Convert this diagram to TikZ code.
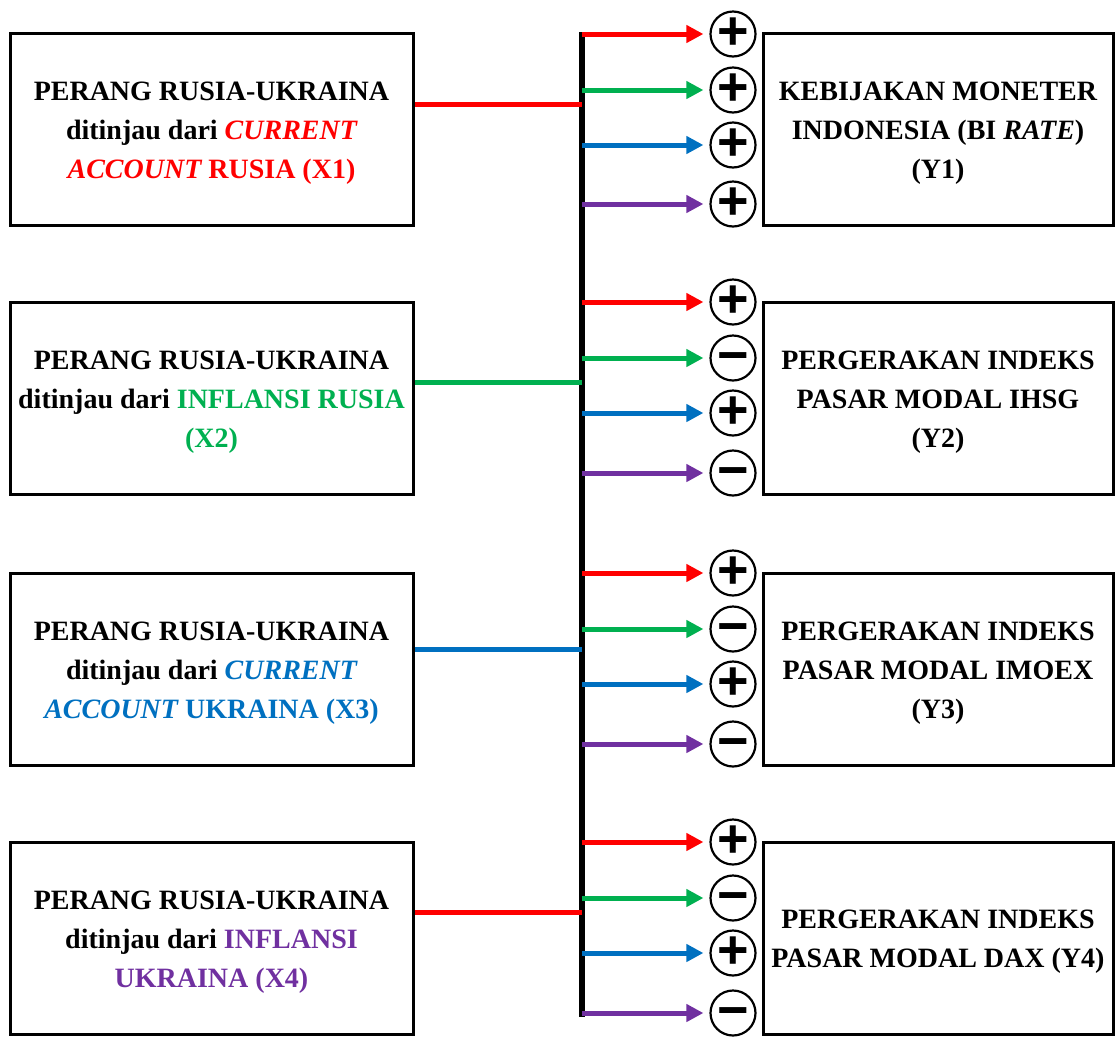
\documentclass[tikz,border=0pt]{standalone}
\usepackage{fontspec}
\setmainfont{Liberation Serif}
\newfontfamily\signfont{Liberation Sans}
\usetikzlibrary{arrows.meta}
\definecolor{cred}{HTML}{FF0000}
\definecolor{cgreen}{HTML}{00B050}
\definecolor{cblue}{HTML}{0070C0}
\definecolor{cpurple}{HTML}{7030A0}
\begin{document}
\begin{tikzpicture}[x=1pt,y=-1pt,
  lbox/.style={draw, line width=3pt, minimum width=403pt, minimum height=192pt, inner sep=0pt},
  rbox/.style={draw, line width=3pt, minimum width=350pt, minimum height=192pt, inner sep=0pt},
  btext/.style={inner sep=0pt, align=center, font=\fontsize{28}{39}\selectfont\bfseries},
  sign/.style={circle, draw, line width=2.2pt, minimum size=45pt, inner sep=0pt, font=\signfont\bfseries\fontsize{54}{54}\selectfont},
  feed/.style={line width=5pt},
  arr/.style={line width=5pt, -{Triangle[length=17pt,width=17pt]}}
]
\useasboundingbox (0,0) rectangle (1117,1037);

% left boxes
\node[lbox] (x1) at (211.5,129) {};
\node[lbox] (x2) at (211.5,398) {};
\node[lbox] (x3) at (211.5,669) {};
\node[lbox] (x4) at (211.5,938) {};
\node[btext] (tx1) at ([yshift=-4pt]x1.center) {PERANG RUSIA-UKRAINA\\ ditinjau dari {\color{cred}\itshape CURRENT}\\ {\color{cred}\itshape ACCOUNT}\ {\color{cred}RUSIA (X1)}};
\node[btext] (tx2) at ([yshift=-4pt]x2.center) {PERANG RUSIA-UKRAINA\\ ditinjau dari {\color{cgreen}INFLANSI RUSIA}\\ {\color{cgreen}(X2)}};
\node[btext] (tx3) at ([yshift=-4pt]x3.center) {PERANG RUSIA-UKRAINA\\ ditinjau dari {\color{cblue}\itshape CURRENT}\\ {\color{cblue}\itshape ACCOUNT}\ {\color{cblue}UKRAINA (X3)}};
\node[btext] (tx4) at ([yshift=-4pt]x4.center) {PERANG RUSIA-UKRAINA\\ ditinjau dari {\color{cpurple}INFLANSI}\\ {\color{cpurple}UKRAINA (X4)}};

% right boxes
\node[rbox] (y1) at (938,129) {};
\node[rbox] (y2) at (938,398) {};
\node[rbox] (y3) at (938,669) {};
\node[rbox] (y4) at (938,938) {};
\node[btext] (ty1) at ([yshift=-4pt]y1.center) {KEBIJAKAN MONETER\\ INDONESIA (BI \textit{RATE})\\ (Y1)};
\node[btext] (ty2) at ([yshift=-4pt]y2.center) {PERGERAKAN INDEKS\\ PASAR MODAL IHSG\\ (Y2)};
\node[btext] (ty3) at ([yshift=-4pt]y3.center) {PERGERAKAN INDEKS\\ PASAR MODAL IMOEX\\ (Y3)};
\node[btext] (ty4) at ([yshift=-4pt]y4.center) {PERGERAKAN INDEKS\\ PASAR MODAL DAX (Y4)};

% vertical bar
\coordinate (bt) at (582,32);
\coordinate (bb) at (582,1017);
\draw[line width=5.5pt] (bt) -- (bb);

% feeders
\draw[feed, cred] (x1.east |- 0,104) -- (bt |- 0,104);
\draw[feed, cgreen] (x2.east |- 0,382) -- (bt |- 0,382);
\draw[feed, cblue] (x3.east |- 0,649) -- (bt |- 0,649);
\draw[feed, cred] (x4.east |- 0,912) -- (bt |- 0,912);

% signs and arrows
\foreach \g/\ya/\yb/\yc/\yd/\sa/\sb/\sc/\sd in {1/34/90/145/204/+/+/+/+, 2/302/358/413/473/+/−/+/−, 3/573/629/684/744/+/−/+/−, 4/842/898/953/1013/+/−/+/−}{
  \node[sign] (s\g a) at (733,\ya) {\vphantom{+}\sa};
  \node[sign] (s\g b) at (733,\yb) {\vphantom{+}\sb};
  \node[sign] (s\g c) at (733,\yc) {\vphantom{+}\sc};
  \node[sign] (s\g d) at (733,\yd) {\vphantom{+}\sd};
  \draw[arr, cred] (bt |- s\g a) -- ([xshift=-6pt]s\g a.west);
  \draw[arr, cgreen] (bt |- s\g b) -- ([xshift=-6pt]s\g b.west);
  \draw[arr, cblue] (bt |- s\g c) -- ([xshift=-6pt]s\g c.west);
  \draw[arr, cpurple] (bt |- s\g d) -- ([xshift=-6pt]s\g d.west);
}
\end{tikzpicture}
\end{document}
